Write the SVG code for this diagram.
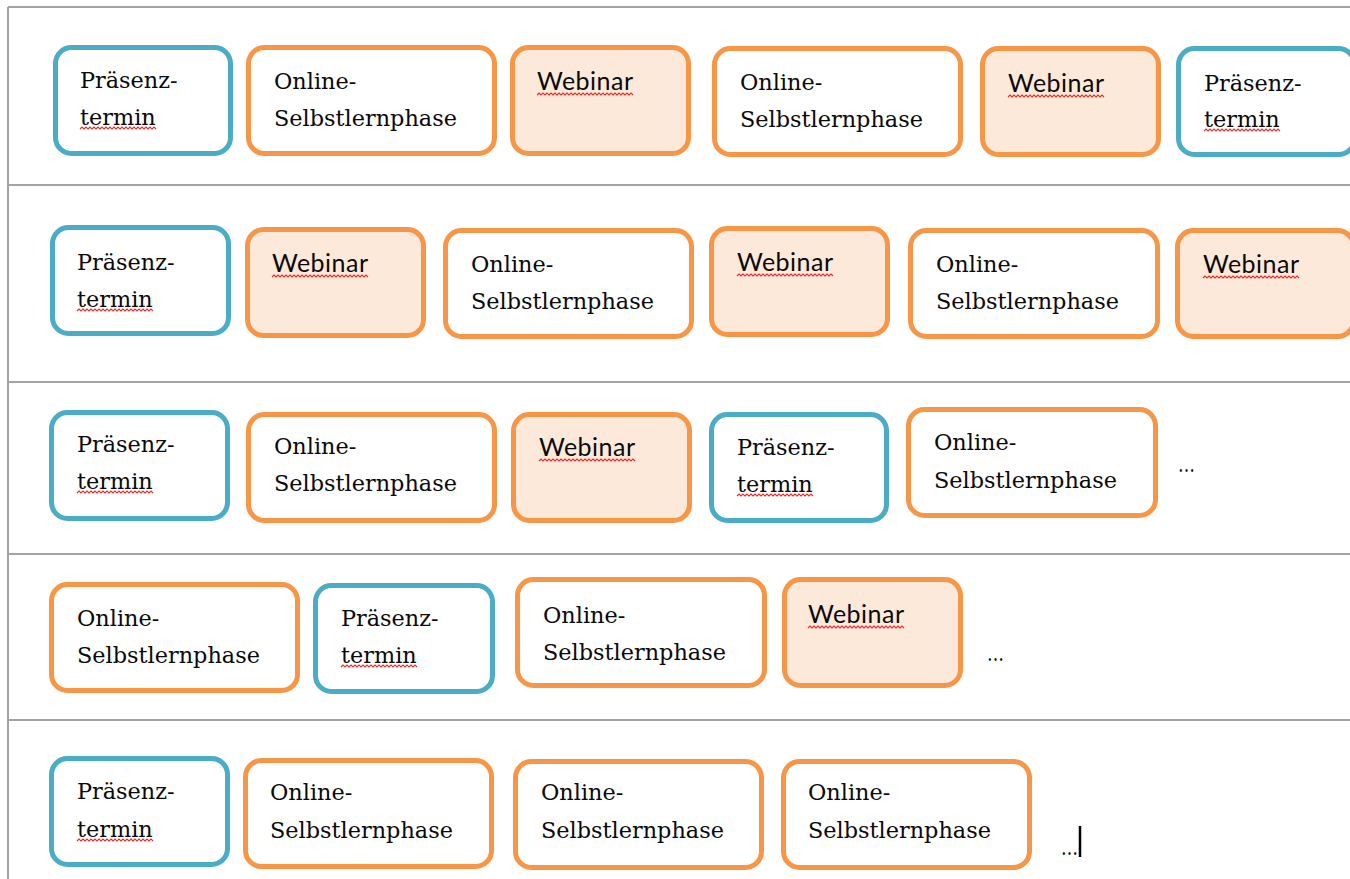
<svg xmlns="http://www.w3.org/2000/svg" xmlns:xlink="http://www.w3.org/1999/xlink" width="1350" height="879" viewBox="0 0 1350 879">
<style>
.grid{stroke:#a3a3a3;stroke-width:2;fill:none}
.b{stroke:#4bacc6;stroke-width:5;fill:#ffffff}
.o{stroke:#f79646;stroke-width:5;fill:#ffffff}
.wf{stroke:#f79646;stroke-width:5;fill:#fde9d9}
.t{font-family:"DejaVu Serif","Liberation Serif",serif;font-size:22.4px;fill:#0a0a0a}
.w{font-family:Lato,"Open Sans",sans-serif;font-size:25px;fill:#0a0a0a}
.sq{stroke:#ec2b2b;stroke-width:1.1;fill:none}
</style>
<defs>
<path id="sqT" class="sq" d="M0 2 l2 -2 l2 2 l2 -2 l2 2 l2 -2 l2 2 l2 -2 l2 2 l2 -2 l2 2 l2 -2 l2 2 l2 -2 l2 2 l2 -2 l2 2 l2 -2 l2 2 l2 -2 l2 2 l2 -2 l2 2 l2 -2 l2 2 l2 -2 l2 2 l2 -2 l2 2 l2 -2 l2 2 l2 -2 l2 2 l2 -2 l2 2 l2 -2 l2 2 l2 -2 l2 2"/>
<path id="sqW" class="sq" d="M0 2 l2 -2 l2 2 l2 -2 l2 2 l2 -2 l2 2 l2 -2 l2 2 l2 -2 l2 2 l2 -2 l2 2 l2 -2 l2 2 l2 -2 l2 2 l2 -2 l2 2 l2 -2 l2 2 l2 -2 l2 2 l2 -2 l2 2 l2 -2 l2 2 l2 -2 l2 2 l2 -2 l2 2 l2 -2 l2 2 l2 -2 l2 2 l2 -2 l2 2 l2 -2 l2 2 l2 -2 l2 2 l2 -2 l2 2 l2 -2 l2 2 l2 -2 l2 2 l2 -2 l2 2"/>
</defs>
<g id="table">
<line class="grid" x1="8" y1="7" x2="1350" y2="7"/>
<line class="grid" x1="8" y1="7" x2="8" y2="879"/>
<line class="grid" x1="8" y1="185" x2="1350" y2="185"/>
<line class="grid" x1="8" y1="382" x2="1350" y2="382"/>
<line class="grid" x1="8" y1="554" x2="1350" y2="554"/>
<line class="grid" x1="8" y1="720" x2="1350" y2="720"/>
</g>
<g id="connectors"></g>

<!-- Row 1 -->
<g id="r1n1"><rect class="b" x="55.5" y="47.5" width="175" height="106" rx="16"/><text class="t" x="80" y="88">Präsenz-</text><text class="t" x="80" y="125">termin</text><use xlink:href="#sqT" x="80" y="127"/></g>
<g id="r1n2"><rect class="o" x="248.5" y="47.5" width="246" height="106" rx="16"/><text class="t" x="274" y="89">Online-</text><text class="t" x="274" y="126">Selbstlernphase</text></g>
<g id="r1n3"><rect class="wf" x="512.5" y="47.5" width="176" height="106" rx="16"/><text class="w" x="537" y="90" textLength="96">Webinar</text><use xlink:href="#sqW" x="537" y="93"/></g>
<g id="r1n4"><rect class="o" x="714.5" y="48.5" width="246" height="106" rx="16"/><text class="t" x="740" y="90">Online-</text><text class="t" x="740" y="127">Selbstlernphase</text></g>
<g id="r1n5"><rect class="wf" x="982.5" y="48.5" width="176" height="106" rx="16"/><text class="w" x="1008" y="92" textLength="96">Webinar</text><use xlink:href="#sqW" x="1008" y="95"/></g>
<g id="r1n6"><rect class="b" x="1178.5" y="48.5" width="176" height="106" rx="16"/><text class="t" x="1204" y="91">Präsenz-</text><text class="t" x="1204" y="127">termin</text><use xlink:href="#sqT" x="1204" y="129"/></g>

<!-- Row 2 -->
<g id="r2n1"><rect class="b" x="52.5" y="227.5" width="176" height="106" rx="16"/><text class="t" x="77" y="270">Präsenz-</text><text class="t" x="77" y="307">termin</text><use xlink:href="#sqT" x="77" y="309"/></g>
<g id="r2n2"><rect class="wf" x="247.5" y="229.5" width="176" height="106" rx="16"/><text class="w" x="272" y="272" textLength="96">Webinar</text><use xlink:href="#sqW" x="272" y="275"/></g>
<g id="r2n3"><rect class="o" x="445.5" y="230.5" width="246" height="106" rx="16"/><text class="t" x="471" y="272">Online-</text><text class="t" x="471" y="309">Selbstlernphase</text></g>
<g id="r2n4"><rect class="wf" x="711.5" y="228.5" width="176" height="106" rx="16"/><text class="w" x="737" y="271" textLength="96">Webinar</text><use xlink:href="#sqW" x="737" y="274"/></g>
<g id="r2n5"><rect class="o" x="910.5" y="230.5" width="247" height="106" rx="16"/><text class="t" x="936" y="272">Online-</text><text class="t" x="936" y="309">Selbstlernphase</text></g>
<g id="r2n6"><rect class="wf" x="1177.5" y="230.5" width="176" height="106" rx="16"/><text class="w" x="1203" y="273" textLength="96">Webinar</text><use xlink:href="#sqW" x="1203" y="276"/></g>

<!-- Row 3 -->
<g id="r3n1"><rect class="b" x="51.5" y="412.5" width="176" height="106" rx="16"/><text class="t" x="77" y="452">Präsenz-</text><text class="t" x="77" y="489">termin</text><use xlink:href="#sqT" x="77" y="491"/></g>
<g id="r3n2"><rect class="o" x="248.5" y="414.5" width="246" height="106" rx="16"/><text class="t" x="274" y="454">Online-</text><text class="t" x="274" y="491">Selbstlernphase</text></g>
<g id="r3n3"><rect class="wf" x="513.5" y="414.5" width="176" height="106" rx="16"/><text class="w" x="539" y="456" textLength="96">Webinar</text><use xlink:href="#sqW" x="539" y="459"/></g>
<g id="r3n4"><rect class="b" x="711.5" y="414.5" width="175" height="106" rx="16"/><text class="t" x="737" y="455">Präsenz-</text><text class="t" x="737" y="492">termin</text><use xlink:href="#sqT" x="737" y="494"/></g>
<g id="r3n5"><rect class="o" x="908.5" y="409.5" width="247" height="106" rx="16"/><text class="t" x="934" y="450">Online-</text><text class="t" x="934" y="488">Selbstlernphase</text></g>
<g id="r3e"><text class="t" x="1178" y="472" textLength="17" lengthAdjust="spacingAndGlyphs">…</text></g>

<!-- Row 4 -->
<g id="r4n1"><rect class="o" x="51.5" y="584.5" width="246" height="106" rx="16"/><text class="t" x="77" y="626">Online-</text><text class="t" x="77" y="663">Selbstlernphase</text></g>
<g id="r4n2"><rect class="b" x="315.5" y="585.5" width="177" height="106" rx="16"/><text class="t" x="341" y="626">Präsenz-</text><text class="t" x="341" y="663">termin</text><use xlink:href="#sqT" x="341" y="665"/></g>
<g id="r4n3"><rect class="o" x="517.5" y="579.5" width="247" height="106" rx="16"/><text class="t" x="543" y="623">Online-</text><text class="t" x="543" y="660">Selbstlernphase</text></g>
<g id="r4n4"><rect class="wf" x="784.5" y="579.5" width="176" height="106" rx="16"/><text class="w" x="808" y="623" textLength="96">Webinar</text><use xlink:href="#sqW" x="808" y="626"/></g>
<g id="r4e"><text class="t" x="987" y="661" textLength="17" lengthAdjust="spacingAndGlyphs">…</text></g>

<!-- Row 5 -->
<g id="r5n1"><rect class="b" x="51.5" y="758.5" width="176" height="106" rx="16"/><text class="t" x="77" y="799">Präsenz-</text><text class="t" x="77" y="837">termin</text><use xlink:href="#sqT" x="77" y="839"/></g>
<g id="r5n2"><rect class="o" x="245.5" y="760.5" width="246" height="106" rx="16"/><text class="t" x="270" y="800">Online-</text><text class="t" x="270" y="838">Selbstlernphase</text></g>
<g id="r5n3"><rect class="o" x="515.5" y="761.5" width="246" height="106" rx="16"/><text class="t" x="541" y="800">Online-</text><text class="t" x="541" y="838">Selbstlernphase</text></g>
<g id="r5n4"><rect class="o" x="783.5" y="761.5" width="246" height="106" rx="16"/><text class="t" x="808" y="800">Online-</text><text class="t" x="808" y="838">Selbstlernphase</text></g>
<g id="r5e"><text class="t" x="1061" y="855" textLength="17" lengthAdjust="spacingAndGlyphs">…</text><line x1="1080" y1="826" x2="1080" y2="857" stroke="#000" stroke-width="2.5"/></g>
</svg>
